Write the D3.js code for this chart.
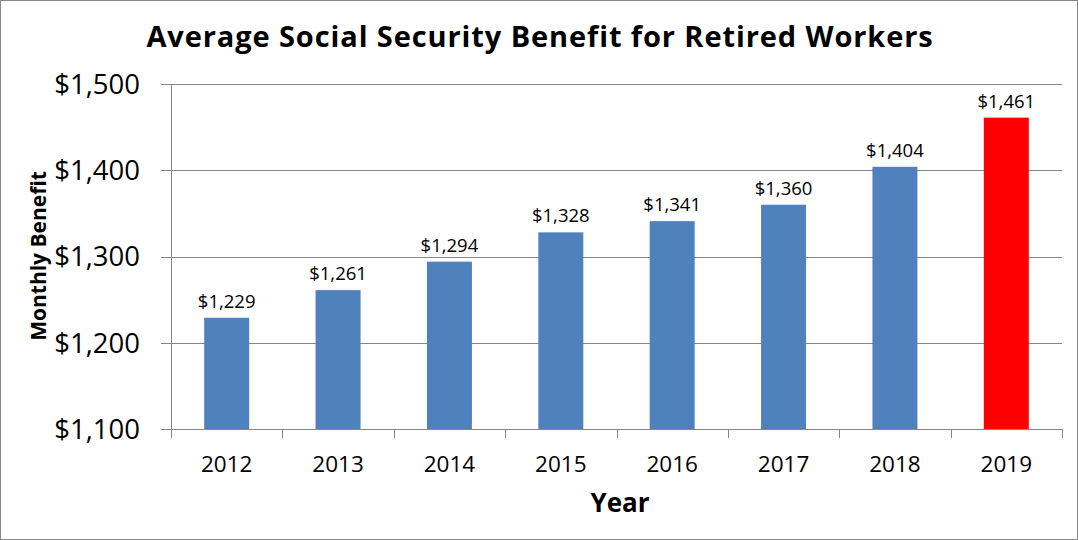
<!DOCTYPE html>
<html>
<head>
<meta charset="utf-8">
<script src="https://cdn.jsdelivr.net/npm/d3@7"></script>
<style>
  body { margin: 0; background: #fff; }
  svg { display: block; font-family: "Open Sans", sans-serif; }
</style>
</head>
<body>
<svg width="1078" height="540"></svg>
<script>
const years = ["2012", "2013", "2014", "2015", "2016", "2017", "2018", "2019"];
const benefits = [1229, 1261, 1294, 1328, 1341, 1360, 1404, 1461];
const yTicks = [1100, 1200, 1300, 1400, 1500];

const svg = d3.select("svg"),
  plot = { left: 171, right: 1062, top: 84, bottom: 429 },
  gridColor = "#868686",
  fmt = d3.format("$,.0f");

const x = d3.scaleBand().domain(years).range([plot.left, plot.right]),
  y = d3.scaleLinear().domain([1100, 1500]).range([plot.bottom, plot.top]);

// outer border
svg.append("rect")
  .attr("x", 0.5).attr("y", 0.5)
  .attr("width", 1077).attr("height", 539)
  .style("fill", "none").style("stroke", "#888").style("stroke-width", 1);

svg.append("text")
  .attr("x", 540).attr("y", 47)
  .attr("text-anchor", "middle")
  .attr("font-size", 29).attr("font-weight", "bold")
  .attr("letter-spacing", 0.9)
  .text("Average Social Security Benefit for Retired Workers");

// gridlines + y labels
svg.selectAll(".grid")
  .data(yTicks)
  .enter()
  .append("line")
  .attr("x1", plot.left - 10).attr("x2", plot.right)
  .attr("y1", d => Math.round(y(d)) + 0.5).attr("y2", d => Math.round(y(d)) + 0.5)
  .style("stroke", gridColor);

svg.selectAll(".ylab")
  .data(yTicks)
  .enter()
  .append("text")
  .attr("x", 140).attr("y", d => y(d))
  .attr("dy", "0.36em")
  .attr("text-anchor", "end")
  .attr("font-size", 27.5)
  .text(d => fmt(d));

svg.append("line")
  .attr("x1", plot.left + 0.5).attr("x2", plot.left + 0.5)
  .attr("y1", plot.top).attr("y2", plot.bottom)
  .style("stroke", gridColor);

// x ticks
const edges = years.map(d => x(d)).concat([plot.right]);
svg.selectAll(".xtick")
  .data(edges)
  .enter()
  .append("line")
  .attr("x1", d => Math.round(d) + 0.5).attr("x2", d => Math.round(d) + 0.5)
  .attr("y1", plot.bottom).attr("y2", plot.bottom + 9)
  .style("stroke", gridColor);

const barW = x.bandwidth() * 0.404;

svg.selectAll(".bar")
  .data(years)
  .enter()
  .append("rect")
  .attr("x", (d) => x(d) + (x.bandwidth() - barW) / 2)
  .attr("y", (d, i) => y(benefits[i]))
  .attr("width", barW)
  .attr("height", (d, i) => plot.bottom - y(benefits[i]))
  .style("fill", (d, i) => (i === years.length - 1 ? "#FF0000" : "#4F81BD"));

svg.selectAll(".val")
  .data(years)
  .enter()
  .append("text")
  .attr("x", d => x(d) + x.bandwidth() / 2)
  .attr("y", (d, i) => y(benefits[i]) - 10)
  .attr("text-anchor", "middle")
  .attr("font-size", 18.5)
  .text((d, i) => fmt(benefits[i]));

svg.selectAll(".xlab")
  .data(years)
  .enter()
  .append("text")
  .attr("x", d => x(d) + x.bandwidth() / 2)
  .attr("y", 472)
  .attr("text-anchor", "middle")
  .attr("font-size", 22.5)
  .text(d => d);

svg.append("text")
  .attr("x", 620).attr("y", 512)
  .attr("text-anchor", "middle")
  .attr("font-size", 26).attr("font-weight", "bold")
  .text("Year");

svg.append("text")
  .attr("transform", "translate(46,256) rotate(-90)")
  .attr("text-anchor", "middle")
  .attr("font-size", 21).attr("font-weight", "bold")
  .text("Monthly Benefit");
</script>
</body>
</html>
